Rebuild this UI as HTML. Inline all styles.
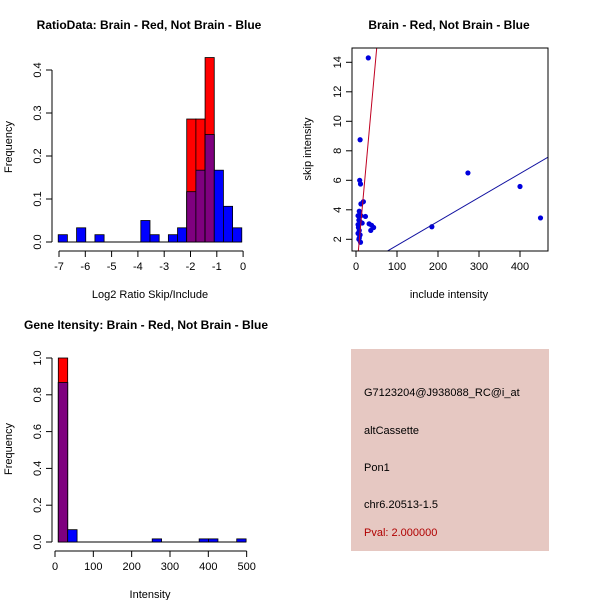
<!DOCTYPE html>
<html><head><meta charset="utf-8"><style>
html,body{margin:0;padding:0;background:#fff}
svg{display:block}
text{font-family:"Liberation Sans",sans-serif;font-size:11px;fill:#000}
.t{font-weight:bold;font-size:12px}
</style></head><body>
<svg id="s" width="600" height="600" viewBox="0 0 600 600">
<text class="t" x="149" y="29" text-anchor="middle">RatioData: Brain - Red, Not Brain - Blue</text>
<text x="150" y="298" text-anchor="middle">Log2 Ratio Skip/Include</text>
<text x="12" y="147" text-anchor="middle" transform="rotate(-90 12 147)">Frequency</text>
<text class="t" x="449" y="29" text-anchor="middle">Brain - Red, Not Brain - Blue</text>
<text x="449" y="298" text-anchor="middle">include intensity</text>
<text x="311" y="149" text-anchor="middle" transform="rotate(-90 311 149)">skip intensity</text>
<text class="t" x="146" y="329" text-anchor="middle">Gene Itensity: Brain - Red, Not Brain - Blue</text>
<text x="150" y="598" text-anchor="middle">Intensity</text>
<text x="12" y="449" text-anchor="middle" transform="rotate(-90 12 449)">Frequency</text>
<rect x="351" y="349" width="198" height="202" fill="#e6c8c2"/>
<text x="364" y="396">G7123204@J938088_RC@i_at</text>
<text x="364" y="434">altCassette</text>
<text x="364" y="471">Pon1</text>
<text x="364" y="508">chr6.20513-1.5</text>
<text x="364" y="536" fill="#b00000" style="fill:#b00000">Pval: 2.000000</text>
</svg>
<script>
// Plot 1 data
const ratioBinStart=-7.03, ratioBinWidth=0.349;
const ratioBlue=[0.017,0,0.033,0,0.017,0,0,0,0,0.05,0.017,0,0.017,0.033,0.117,0.167,0.25,0.167,0.083,0.033];
const ratioRed=[0,0,0,0,0,0,0,0,0,0,0,0,0,0,0.286,0.286,0.429,0,0,0];
const ratioXTicks=[-7,-6,-5,-4,-3,-2,-1,0];
const ratioYTicks=[0,0.1,0.2,0.3,0.4];
// Plot 2 data
const incl=[30,10,9,11,12,18,8,23,5,12,7,10,15,32,38,43,36,5,6,8,5,10,8,7,11,185,273,400,450];
const skip=[14.3,8.75,6.0,5.75,4.4,4.55,3.9,3.55,3.6,3.6,3.3,3.2,3.1,3.05,2.95,2.8,2.6,3.0,2.8,2.6,2.4,2.3,2.1,2.0,1.8,2.85,6.5,5.58,3.45];
const redFit=[-0.54,0.307];
const blueFit=[-0.04,0.01625];
const scXTicks=[0,100,200,300,400];
const scYTicks=[2,4,6,8,10,12,14];
// Plot 3 data
const intBinStart=8.6, intBinWidth=24.5;
const intBlue=[0.867,0.067,0,0,0,0,0,0,0,0,0.017,0,0,0,0,0.017,0.017,0,0,0.017];
const intRed=[1.0,0,0,0,0,0,0,0,0,0,0,0,0,0,0,0,0,0,0,0];
const intXTicks=[0,100,200,300,400,500];
const intYTicks=[0,0.2,0.4,0.6,0.8,1.0];

const S=document.getElementById('s'),NS='http://www.w3.org/2000/svg';
function mk(t,a){const e=document.createElementNS(NS,t);for(const k in a)e.setAttribute(k,a[k]);S.appendChild(e);return e;}
function line(x1,y1,x2,y2,c,w){return mk('line',{x1,y1,x2,y2,stroke:c||'#000','stroke-width':w||1});}
function txt(x,y,s,rot){const e=mk('text',{x,y,'text-anchor':'middle'});if(rot)e.setAttribute('transform','rotate(-90 '+x+' '+y+')');e.textContent=s;return e;}

function hist(p,prefix,start,bw,blue,red,xt,yt,fmtY){
  const X=v=>p.x0+(v-p.xa)*p.xs, Y=v=>p.y0-v*p.ys;
  line(X(start),p.y0,X(start+bw*blue.length),p.y0);
  for(let i=0;i<blue.length;i++){
    const a=X(start+i*bw),b=X(start+(i+1)*bw);
    const draw=(v,c,n)=>{if(v<=0)return;const r=mk('rect',{x:a,y:Y(v),width:b-a,height:v*p.ys,fill:c,stroke:'#000','stroke-width':0.8});
      
      };
    draw(blue[i],'#0000ff',prefix+'-blue-bar');
    draw(red[i],'#ff0000',prefix+'-red-bar');
    if(blue[i]>0&&red[i]>0)draw(Math.min(blue[i],red[i]),'#7f007f',prefix+'-overlap-bar');
  }
  line(X(xt[0]),p.ax,X(xt[xt.length-1]),p.ax);
  xt.forEach(v=>{line(X(v),p.ax,X(v),p.ax+6);const t=txt(X(v),p.ax+19,String(v));
    
    });
  line(p.ay,Y(yt[0]),p.ay,Y(yt[yt.length-1]));
  yt.forEach(v=>{line(p.ay-6,Y(v),p.ay,Y(v));const t=txt(p.ay-11,Y(v),fmtY(v),true);
    
    });
}
hist({x0:59,xa:-7,xs:26.3,y0:242,ys:430,ax:251,ay:52},'ratio',ratioBinStart,ratioBinWidth,ratioBlue,ratioRed,ratioXTicks,ratioYTicks,v=>v.toFixed(1));
hist({x0:55,xa:0,xs:0.3833,y0:542,ys:184,ax:551,ay:52},'intensity',intBinStart,intBinWidth,intBlue,intRed,intXTicks,intYTicks,v=>v.toFixed(1));

// scatter
(function(){
  const L=352,R=548,T=48,B=251;
  const X=v=>356+v*0.41, Y=v=>239.3-(v-2)*14.75;
  const clip=mk('clipPath',{id:'cp'});const cr=document.createElementNS(NS,'rect');
  cr.setAttribute('x',L);cr.setAttribute('y',T);cr.setAttribute('width',R-L);cr.setAttribute('height',B-T);clip.appendChild(cr);
  const g=mk('g',{'clip-path':'url(#cp)'});
  
  
  const add=(t,a)=>{const e=document.createElementNS(NS,t);for(const k in a)e.setAttribute(k,a[k]);g.appendChild(e);return e;};
  for(let i=0;i<incl.length;i++){
    const c=add('circle',{cx:X(incl[i]),cy:Y(skip[i]),r:2.6,fill:'#0000dd'});
    
    
  }
  const xa=-20,xb=480;
  const rl=add('line',{x1:X(xa),y1:Y(redFit[0]+redFit[1]*xa),x2:X(xb),y2:Y(redFit[0]+redFit[1]*xb),stroke:'#c00020','stroke-width':1});
  
  
  const bl=add('line',{x1:X(xa),y1:Y(blueFit[0]+blueFit[1]*xa),x2:X(xb),y2:Y(blueFit[0]+blueFit[1]*xb),stroke:'#1010a0','stroke-width':1});
  
  
  const bx=mk('rect',{x:L,y:T,width:R-L,height:B-T,fill:'none',stroke:'#000'});
  
  
  scXTicks.forEach(v=>{line(X(v),B,X(v),B+6);const t=txt(X(v),B+19,String(v));
    
    });
  scYTicks.forEach(v=>{line(L-6,Y(v),L,Y(v));const t=txt(L-11,Y(v),String(v),true);
    
    });
})();
</script>
</body></html>
